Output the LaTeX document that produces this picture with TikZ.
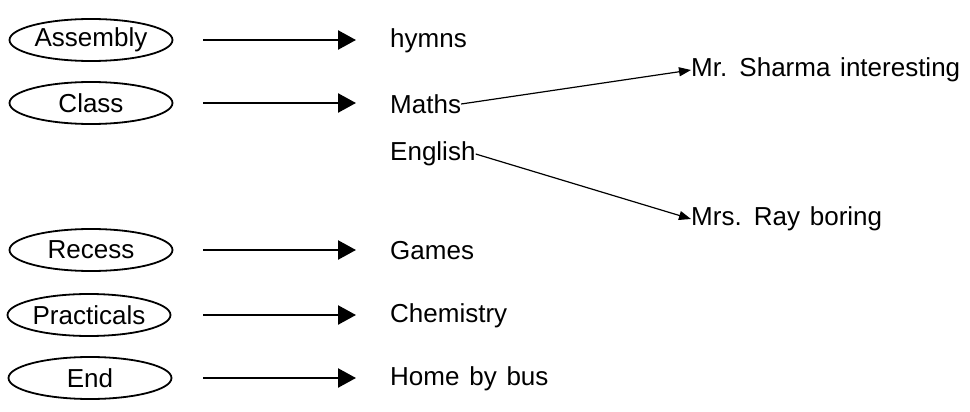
\documentclass[tikz,border=0pt]{standalone}
\usepackage{fontspec}
\setmainfont[WordSpace=1.35]{Liberation Sans}
\usetikzlibrary{shapes.geometric,arrows.meta}
\begin{document}
\begin{tikzpicture}[x=1pt,y=-1pt,
  every node/.style={font=\fontsize{26}{29}\selectfont},
  period/.style={ellipse,draw,line width=1.8pt,minimum width=163pt,minimum height=42pt,inner sep=0pt},
  item/.style={anchor=west,inner sep=0pt},
  bigarrow/.style={line width=2.4pt,-{Triangle[length=18pt,width=19pt]}},
  thinarrow/.style={line width=1.2pt,-{Triangle[length=12pt,width=9pt]}}]
\useasboundingbox (0,0) rectangle (970,412);
% periods of the school day
\node[period] (assembly)   at (91,40)  {Assembly};
\node[period] (class)      at (91,103) {Class};
\node[period] (recess)     at (91,250) {Recess};
\node[period] (practicals) at (89,315) {Practicals};
\node[period] (end)        at (90,378) {End};
% activities
\node[item] (hymns)     at (390,41)  {hymns};
\node[item] (maths)     at (390,104) {Maths};
\node[item] (english)   at (390,154) {English};
\node[item] (games)     at (390,251) {Games};
\node[item] (chemistry) at (390,316) {Chemistry};
\node[item] (home)      at (390,379) {Home by bus};
% teachers
\node[item] (sharma) at (691,70)  {Mr. Sharma interesting};
\node[item] (ray)    at (691,219) {Mrs. Ray boring};
% arrows between periods and activities
\coordinate (a1) at (203,40);  \coordinate (b1) at (356,40);
\coordinate (a2) at (203,103); \coordinate (b2) at (356,103);
\coordinate (a3) at (203,250); \coordinate (b3) at (356,250);
\coordinate (a4) at (203,315); \coordinate (b4) at (356,315);
\coordinate (a5) at (203,378); \coordinate (b5) at (356,378);
\draw[bigarrow] (a1) -- (b1);
\draw[bigarrow] (a2) -- (b2);
\draw[bigarrow] (a3) -- (b3);
\draw[bigarrow] (a4) -- (b4);
\draw[bigarrow] (a5) -- (b5);
\draw[thinarrow] (maths.east) -- (sharma.west);
\draw[thinarrow] (english.east) -- (ray.west);
\end{tikzpicture}
\end{document}
